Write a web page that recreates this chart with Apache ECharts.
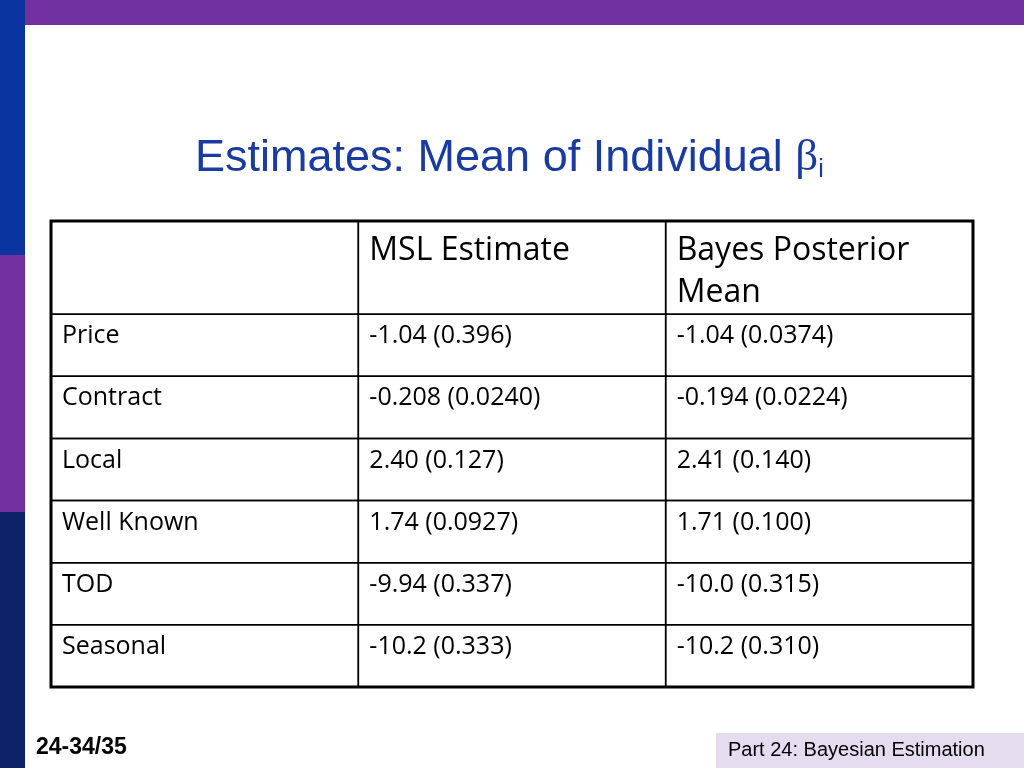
<!DOCTYPE html>
<html><head><meta charset="utf-8">
<script src="https://cdn.jsdelivr.net/npm/echarts@6/dist/echarts.min.js"></script>
<style>html,body{margin:0;padding:0;background:#fff}#c{width:1024px;height:768px}</style>
</head><body><div id="c"></div>
<script>
const columns = ['', 'MSL Estimate', 'Bayes Posterior\nMean'];
const rowLabels = ['Price', 'Contract', 'Local', 'Well Known', 'TOD', 'Seasonal'];
const mslValues = ['-1.04 (0.396)', '-0.208 (0.0240)', '2.40 (0.127)', '1.74 (0.0927)', '-9.94 (0.337)', '-10.2 (0.333)'];
const bayesValues = ['-1.04 (0.0374)', '-0.194 (0.0224)', '2.41 (0.140)', '1.71 (0.100)', '-10.0 (0.315)', '-10.2 (0.310)'];

const cells = [];
columns.forEach((c, i) => cells.push([i, 0, 1.5, c, 1]));
rowLabels.forEach((r, j) => {
  const y0 = 1.5 + j, y1 = 2.5 + j;
  cells.push([0, y0, y1, r, 0]);
  cells.push([1, y0, y1, mslValues[j], 0]);
  cells.push([2, y0, y1, bayesValues[j], 0]);
});

const chart = echarts.init(document.getElementById('c'));
chart.setOption({
  animation: false,
  grid: { left: 51, right: 51, top: 221, bottom: 81 },
  xAxis: { type: 'value', min: 0, max: 3, show: false },
  yAxis: { type: 'value', min: 0, max: 7.5, inverse: true, show: false },
  graphic: [
    { type: 'rect', shape: { x: 0, y: 0, width: 25, height: 255 }, style: { fill: '#0a34a0' } },
    { type: 'rect', shape: { x: 0, y: 255, width: 25, height: 257 }, style: { fill: '#7030a0' } },
    { type: 'rect', shape: { x: 0, y: 512, width: 25, height: 256 }, style: { fill: '#0c2166' } },
    { type: 'rect', shape: { x: 25, y: 0, width: 999, height: 25 }, style: { fill: '#7030a0' } },
    { type: 'rect', shape: { x: 716, y: 733, width: 308, height: 35 }, style: { fill: '#e6dcf0' } },
    { type: 'text', x: 728, y: 740, style: { text: 'Part 24: Bayesian Estimation', font: '20px "Liberation Sans", Arial', fill: '#000' } },
    { type: 'text', x: 36, y: 736, style: { text: '24-34/35', font: 'bold 23px "Liberation Sans", Arial', fill: '#000' } },
    { type: 'text', x: 195, y: 134, style: { rich: { a: { font: '45px "Liberation Sans", Arial', fill: '#1a3ca0' }, b: { font: '45px "Liberation Serif", serif', fill: '#1a3ca0' }, s: { font: '25px "Liberation Sans", Arial', fill: '#1a3ca0', padding: [24, 0, 0, 0] } }, text: '{a|Estimates: Mean of Individual }{b|β}{s|i}' } }
  ],
  series: [{
    type: 'custom',
    data: cells,
    renderItem: (params, api) => {
      const c = api.value(0);
      const p0 = api.coord([c, api.value(1)]);
      const p1 = api.coord([c + 1, api.value(2)]);
      const d = cells[params.dataIndex];
      const header = d[4] === 1;
      return {
        type: 'group',
        children: [
          { type: 'rect', shape: { x: p0[0], y: p0[1], width: p1[0] - p0[0], height: p1[1] - p0[1] },
            style: { fill: 'none', stroke: '#000', lineWidth: 1.5 } },
          { type: 'text', x: p0[0] + 11, y: p0[1] + (header ? 9 : 7),
            style: { text: d[3], font: header ? '32px "Open Sans"' : '25px "Open Sans"', fill: '#000', lineHeight: header ? 42 : 30 } }
        ]
      };
    }
  }, {
    type: 'custom', data: [[0]], silent: true,
    renderItem: (params, api) => {
      const a = api.coord([0, 0]), b = api.coord([3, 7.5]);
      return { type: 'rect', shape: { x: a[0], y: a[1], width: b[0] - a[0], height: b[1] - a[1] }, style: { fill: 'none', stroke: '#000', lineWidth: 3 } };
    }
  }]
});
</script></body></html>
